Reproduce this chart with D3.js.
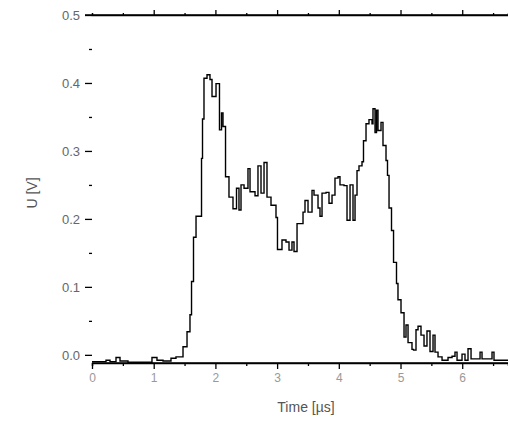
<!DOCTYPE html>
<html>
<head>
<meta charset="utf-8">
<script src="https://cdn.jsdelivr.net/npm/d3@7"></script>
<style>
  html, body { margin: 0; padding: 0; background: #fff; }
  svg { display: block; font-family: "Liberation Sans", Arial, sans-serif; }
</style>
</head>
<body>
<svg id="chart" width="508" height="422"></svg>
<script>
// Sampled pulse: time of each level change (µs) and the voltage held from then on (V)
const timeUs = [
  0, 0.227, 0.292, 0.389, 0.454, 0.583, 0.972, 1.053, 1.151, 1.280,
  1.361, 1.475, 1.540, 1.588, 1.613, 1.645, 1.686, 1.775, 1.791, 1.815,
  1.864, 1.912, 1.945, 2.010, 2.066, 2.099, 2.123, 2.164, 2.220, 2.285,
  2.342, 2.382, 2.415, 2.464, 2.528, 2.561, 2.642, 2.690, 2.739, 2.788,
  2.836, 2.901, 2.982, 3.006, 3.079, 3.144, 3.193, 3.241, 3.274, 3.323,
  3.420, 3.452, 3.501, 3.566, 3.598, 3.663, 3.695, 3.728, 3.793, 3.841,
  3.890, 3.938, 3.987, 4.019, 4.084, 4.133, 4.182, 4.230, 4.263, 4.295,
  4.327, 4.376, 4.400, 4.441, 4.489, 4.538, 4.554, 4.587, 4.611, 4.635,
  4.684, 4.716, 4.765, 4.789, 4.814, 4.854, 4.887, 4.935, 4.959, 5.008,
  5.057, 5.089, 5.122, 5.186, 5.211, 5.251, 5.284, 5.332, 5.381, 5.429,
  5.478, 5.527, 5.559, 5.608, 5.673, 5.770, 5.835, 5.883, 5.916, 5.997,
  6.045, 6.094, 6.143, 6.289, 6.321, 6.483, 6.515, 6.742
];
const voltageV = [
  -0.010, -0.008, -0.010, -0.004, -0.009, -0.011, -0.004, -0.008, -0.009, -0.005,
  -0.003, 0.012, 0.034, 0.059, 0.108, 0.173, 0.204, 0.289, 0.347, 0.407,
  0.412, 0.405, 0.380, 0.399, 0.331, 0.356, 0.336, 0.262, 0.232, 0.215,
  0.245, 0.213, 0.250, 0.245, 0.274, 0.240, 0.234, 0.278, 0.238, 0.283,
  0.232, 0.220, 0.202, 0.155, 0.169, 0.166, 0.154, 0.166, 0.152, 0.193,
  0.210, 0.227, 0.210, 0.242, 0.235, 0.216, 0.204, 0.238, 0.239, 0.223,
  0.235, 0.260, 0.262, 0.250, 0.249, 0.198, 0.250, 0.198, 0.235, 0.271,
  0.278, 0.284, 0.315, 0.340, 0.346, 0.340, 0.362, 0.327, 0.360, 0.330,
  0.342, 0.308, 0.286, 0.264, 0.216, 0.183, 0.136, 0.105, 0.081, 0.062,
  0.026, 0.044, 0.018, 0.008, 0.007, 0.037, 0.042, 0.029, 0.013, 0.035,
  0.005, 0.029, 0.004, -0.003, -0.008, -0.004, -0.002, 0.004, -0.008, 0.001,
  -0.008, 0.009, -0.006, 0.004, -0.006, 0.004, -0.008, -0.008
];

const xMajorTicks = [0, 1, 2, 3, 4, 5, 6];
const xMinorTicks = [0.5, 1.5, 2.5, 3.5, 4.5, 5.5, 6.5];
const yMajorTicks = [0.0, 0.1, 0.2, 0.3, 0.4, 0.5];
const yMinorTicks = [0.05, 0.15, 0.25, 0.35, 0.45];
const xTitle = "Time [µs]";
const yTitle = "U [V]";

const svg = d3.select("#chart");
const x = d3.scaleLinear().domain([0, 6.742]).range([92, 508]);
const y = d3.scaleLinear().domain([-0.012, 0.5]).range([363, 15]);

const pts = timeUs.map((t, i) => ({ t, v: voltageV[i] }));

// bottom axis
const xBottom = svg.append("g").attr("transform", `translate(0,${y(-0.012)})`);
xBottom.call(d3.axisBottom(x).tickValues(xMajorTicks).tickSize(6).tickFormat(d3.format("d")));
xBottom.append("g").call(d3.axisBottom(x).tickValues(xMinorTicks).tickSize(3).tickFormat(""));

// top axis (no labels)
const xTop = svg.append("g").attr("transform", `translate(0,${y(0.5)})`);
xTop.call(d3.axisTop(x).tickValues(xMajorTicks.slice(1)).tickSize(5).tickFormat(""));
xTop.append("g").call(d3.axisTop(x).tickValues(xMinorTicks).tickSize(2).tickFormat(""));

// left axis: ticks and labels only
const yLeft = svg.append("g").attr("transform", `translate(${x(0)},0)`);
yLeft.call(d3.axisLeft(y).tickValues(yMajorTicks).tickSize(7).tickPadding(5).tickFormat(d3.format(".1f")));
yLeft.append("g").call(d3.axisLeft(y).tickValues(yMinorTicks).tickSize(3).tickFormat(""));
yLeft.selectAll(".domain").remove();

svg.selectAll(".domain").attr("stroke", "#000").attr("stroke-width", 1.5);
svg.selectAll(".tick line").attr("stroke", "#000").attr("stroke-width", 1.3);
xTop.select(".domain").attr("d", `M85,0H508`);
xBottom.select(".domain").attr("d", `M${x(0)},0H508`);

xBottom.selectAll(".tick text").attr("font-size", 12).attr("fill", "#999")
  .attr("font-family", "Liberation Sans, Arial, sans-serif").attr("dy", "0.85em");
yLeft.selectAll(".tick text").attr("font-size", 13).attr("fill", "#666")
  .attr("font-family", "Liberation Sans, Arial, sans-serif");

// waveform
const line = d3.line()
  .x(d => x(d.t))
  .y(d => y(d.v))
  .curve(d3.curveStepAfter);

svg.append("path")
  .datum(pts)
  .attr("fill", "none")
  .attr("stroke", "#000")
  .attr("stroke-width", 1.4)
  .attr("d", line);

// titles
svg.append("text")
  .attr("x", 306).attr("y", 412)
  .attr("text-anchor", "middle")
  .attr("font-size", 14)
  .attr("fill", "#555")
  .text(xTitle);

svg.append("text")
  .attr("transform", "translate(37,193) rotate(-90)")
  .attr("text-anchor", "middle")
  .attr("font-size", 14)
  .attr("fill", "#555")
  .text(yTitle);
</script>
</body>
</html>
